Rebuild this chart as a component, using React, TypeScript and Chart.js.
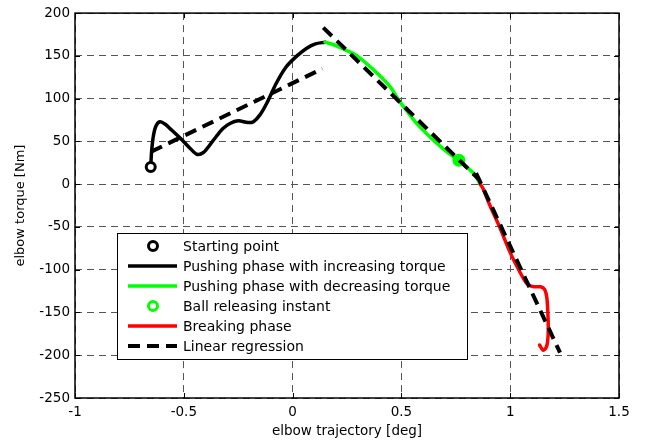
import React, { useEffect, useRef } from "react";
import { Chart, registerables } from "chart.js";

Chart.register(...registerables);

const FONT = "'DejaVu Sans', 'Liberation Sans', sans-serif";

// ---- data ----
const startX = [-0.652];
const startY = [20];

const pushIncX = [-0.652, -0.648, -0.64, -0.628, -0.61, -0.585, -0.555, -0.517, -0.475, -0.44, -0.41, -0.38, -0.35, -0.32, -0.288, -0.25, -0.205, -0.18, -0.15, -0.12, -0.075, -0.03, 0.02, 0.065, 0.105, 0.149];
const pushIncY = [20, 38, 56, 68, 73, 70, 63, 54, 43, 35, 37, 46, 56, 65, 71, 74, 72, 73, 81, 94, 118, 137, 150, 159, 164, 166];

const pushDecX = [0.149, 0.19, 0.233, 0.29, 0.34, 0.4, 0.448, 0.494, 0.53, 0.57, 0.62, 0.662, 0.723, 0.764, 0.8, 0.835, 0.862];
const pushDecY = [166, 163, 158, 151, 141, 127, 114, 96, 84, 71, 58, 48, 35, 28, 20, 12, 0];

const releaseX = [0.764];
const releaseY = [28];

const brakeX = [0.862, 0.875, 0.907, 0.953, 1.0, 1.045, 1.07, 1.085, 1.11, 1.14, 1.158, 1.168, 1.173, 1.175, 1.172, 1.165, 1.15, 1.135];
const brakeY = [0, -5, -25, -51, -80, -103, -114, -118, -120, -120, -123, -132, -150, -170, -184, -191, -194, -188];

const reg1X = [-0.65, 0.137];
const reg1Y = [38, 135];
const reg2X = [0.141, 0.855];
const reg2Y = [183, 6];
const reg3X = [0.843, 1.229];
const reg3Y = [13, -197];

const xTicks = [-1, -0.5, 0, 0.5, 1, 1.5];
const yTicks = [-250, -200, -150, -100, -50, 0, 50, 100, 150, 200];

const legendLabels = [
  "Starting point",
  "Pushing phase with increasing torque",
  "Pushing phase with decreasing torque",
  "Ball releasing instant",
  "Breaking phase",
  "Linear regression",
];
const legendKinds = ["ring", "line", "line", "ring", "line", "dash"];
const legendColors = ["#000000", "#000000", "#00ff00", "#00ff00", "#ff0000", "#000000"];

const pts = (xs: number[], ys: number[]) => xs.map((x, i) => ({ x, y: ys[i] }));

const framePlugin = {
  id: "matlabFrame",
  afterDraw(chart: any) {
    const { ctx, chartArea } = chart;
    const { left, right, top, bottom } = chartArea;
    const xs = chart.scales.x;
    const ys = chart.scales.y;
    ctx.save();
    ctx.setLineDash([]);
    ctx.strokeStyle = "#000";
    ctx.lineWidth = 1;
    const tl = 5;
    ctx.beginPath();
    xTicks.forEach((v) => {
      const px = Math.round(xs.getPixelForValue(v)) + 0.5;
      ctx.moveTo(px, bottom);
      ctx.lineTo(px, bottom - tl);
      ctx.moveTo(px, top);
      ctx.lineTo(px, top + tl);
    });
    yTicks.forEach((v) => {
      const py = Math.round(ys.getPixelForValue(v)) + 0.5;
      ctx.moveTo(left, py);
      ctx.lineTo(left + tl, py);
      ctx.moveTo(right, py);
      ctx.lineTo(right - tl, py);
    });
    ctx.stroke();
    ctx.lineWidth = 1.5;
    ctx.strokeRect(left, top, right - left, bottom - top);

    // legend
    const bx = 117.5, by = 233.5, bw = 350, bh = 126;
    ctx.fillStyle = "#fff";
    ctx.fillRect(bx, by, bw, bh);
    ctx.lineWidth = 1;
    ctx.strokeStyle = "#000";
    ctx.strokeRect(bx, by, bw, bh);
    const rowY0 = 246;
    const rowH = 20;
    const sx1 = 128, sx2 = 177, tx = 183;
    ctx.font = `14px ${FONT}`;
    ctx.textBaseline = "middle";
    ctx.textAlign = "left";
    legendLabels.forEach((label, i) => {
      const y = rowY0 + i * rowH;
      const kind = legendKinds[i];
      const col = legendColors[i];
      if (kind === "line" || kind === "dash") {
        ctx.beginPath();
        ctx.strokeStyle = col;
        ctx.lineWidth = kind === "dash" ? 4 : 3.5;
        ctx.setLineDash(kind === "dash" ? [12, 7] : []);
        ctx.moveTo(sx1, y);
        ctx.lineTo(sx2, y);
        ctx.stroke();
        ctx.setLineDash([]);
      } else {
        ctx.beginPath();
        ctx.arc((sx1 + sx2) / 2 + 0.5, y, 4.5, 0, Math.PI * 2);
        ctx.fillStyle = "#fff";
        ctx.fill();
        ctx.lineWidth = 3;
        ctx.strokeStyle = col;
        ctx.stroke();
      }
      ctx.fillStyle = "#000";
      ctx.fillText(label, tx, y + 1);
    });
    ctx.restore();
  },
};

export default function App() {
  const ref = useRef<HTMLCanvasElement | null>(null);
  useEffect(() => {
    document.body.style.margin = "0";
    document.body.style.overflow = "hidden";
    const canvas = ref.current;
    if (!canvas) return;
    const lineBase = {
      showLine: true,
      pointRadius: 0,
      pointHoverRadius: 0,
      tension: 0.3,
      fill: false,
      borderCapStyle: "round" as const,
      borderJoinStyle: "round" as const,
    };
    const chart = new Chart(canvas, {
      type: "scatter",
      data: {
        datasets: [
          {
            label: "Starting point",
            data: pts(startX, startY),
            pointRadius: 4.5,
            pointBorderWidth: 3,
            pointBorderColor: "#000",
            pointBackgroundColor: "#fff",
            showLine: false,
            order: 0,
          },
          { ...lineBase, tension: 0, label: "Linear regression", data: pts(reg1X, reg1Y), borderColor: "#000", borderWidth: 4, borderDash: [12, 7], borderCapStyle: "butt", order: 1 },
          { ...lineBase, tension: 0, label: "Linear regression 2", data: pts(reg2X, reg2Y), borderColor: "#000", borderWidth: 4, borderDash: [12, 7], borderCapStyle: "butt", order: 2 },
          { ...lineBase, tension: 0, label: "Linear regression 3", data: pts(reg3X, reg3Y), borderColor: "#000", borderWidth: 4, borderDash: [12, 7], borderCapStyle: "butt", order: 3 },
          {
            label: "Ball releasing instant",
            data: pts(releaseX, releaseY),
            pointRadius: 5,
            pointBorderWidth: 3,
            pointBorderColor: "#00ff00",
            pointBackgroundColor: "#00ff00",
            showLine: false,
            order: 4,
          },
          { ...lineBase, label: "Breaking phase", data: pts(brakeX, brakeY), borderColor: "#ff0000", borderWidth: 3.5, order: 5 },
          { ...lineBase, label: "Pushing phase with decreasing torque", data: pts(pushDecX, pushDecY), borderColor: "#00ff00", borderWidth: 3.5, order: 6 },
          { ...lineBase, label: "Pushing phase with increasing torque", data: pts(pushIncX, pushIncY), borderColor: "#000", borderWidth: 3.5, order: 7 },
        ],
      },
      options: {
        responsive: false,
        animation: false,
        devicePixelRatio: 1,
        layout: { padding: { left: 0, right: 32, top: 9, bottom: 0 } },
        plugins: { legend: { display: false }, tooltip: { enabled: false } },
        events: [],
        scales: {
          x: {
            type: "linear",
            min: -1,
            max: 1.5,
            afterBuildTicks: (s: any) => {
              s.ticks = xTicks.map((v) => ({ value: v }));
            },
            afterFit: (s: any) => {
              s.height = 46;
            },
            grid: { color: "#555", lineWidth: 1, drawTicks: false },
            border: { display: false, dash: [7, 5] },
            ticks: {
              padding: 6,
              color: "#000",
              font: { family: FONT, size: 13.5 },
              maxRotation: 0,
              autoSkip: false,
              callback: (v: any) => String(v),
            },
            title: {
              display: true,
              text: "elbow trajectory [deg]",
              color: "#000",
              font: { family: FONT, size: 13.5 },
              padding: { top: 0, bottom: 4 },
            },
          },
          y: {
            type: "linear",
            min: -250,
            max: 200,
            afterBuildTicks: (s: any) => {
              s.ticks = yTicks.map((v) => ({ value: v }));
            },
            afterFit: (s: any) => {
              s.width = 75;
            },
            grid: { color: "#555", lineWidth: 1, drawTicks: false },
            border: { display: false, dash: [7, 5] },
            ticks: {
              padding: 5,
              color: "#000",
              font: { family: FONT, size: 13.5 },
              autoSkip: false,
              callback: (v: any) => String(v),
            },
            title: {
              display: true,
              text: "elbow torque [Nm]",
              color: "#000",
              font: { family: FONT, size: 13 },
              padding: { top: 13, bottom: 0 },
            },
          },
        },
      },
      plugins: [framePlugin],
    });
    return () => chart.destroy();
  }, []);
  return <canvas ref={ref} width={651} height={444} style={{ display: "block" }} />;
}
